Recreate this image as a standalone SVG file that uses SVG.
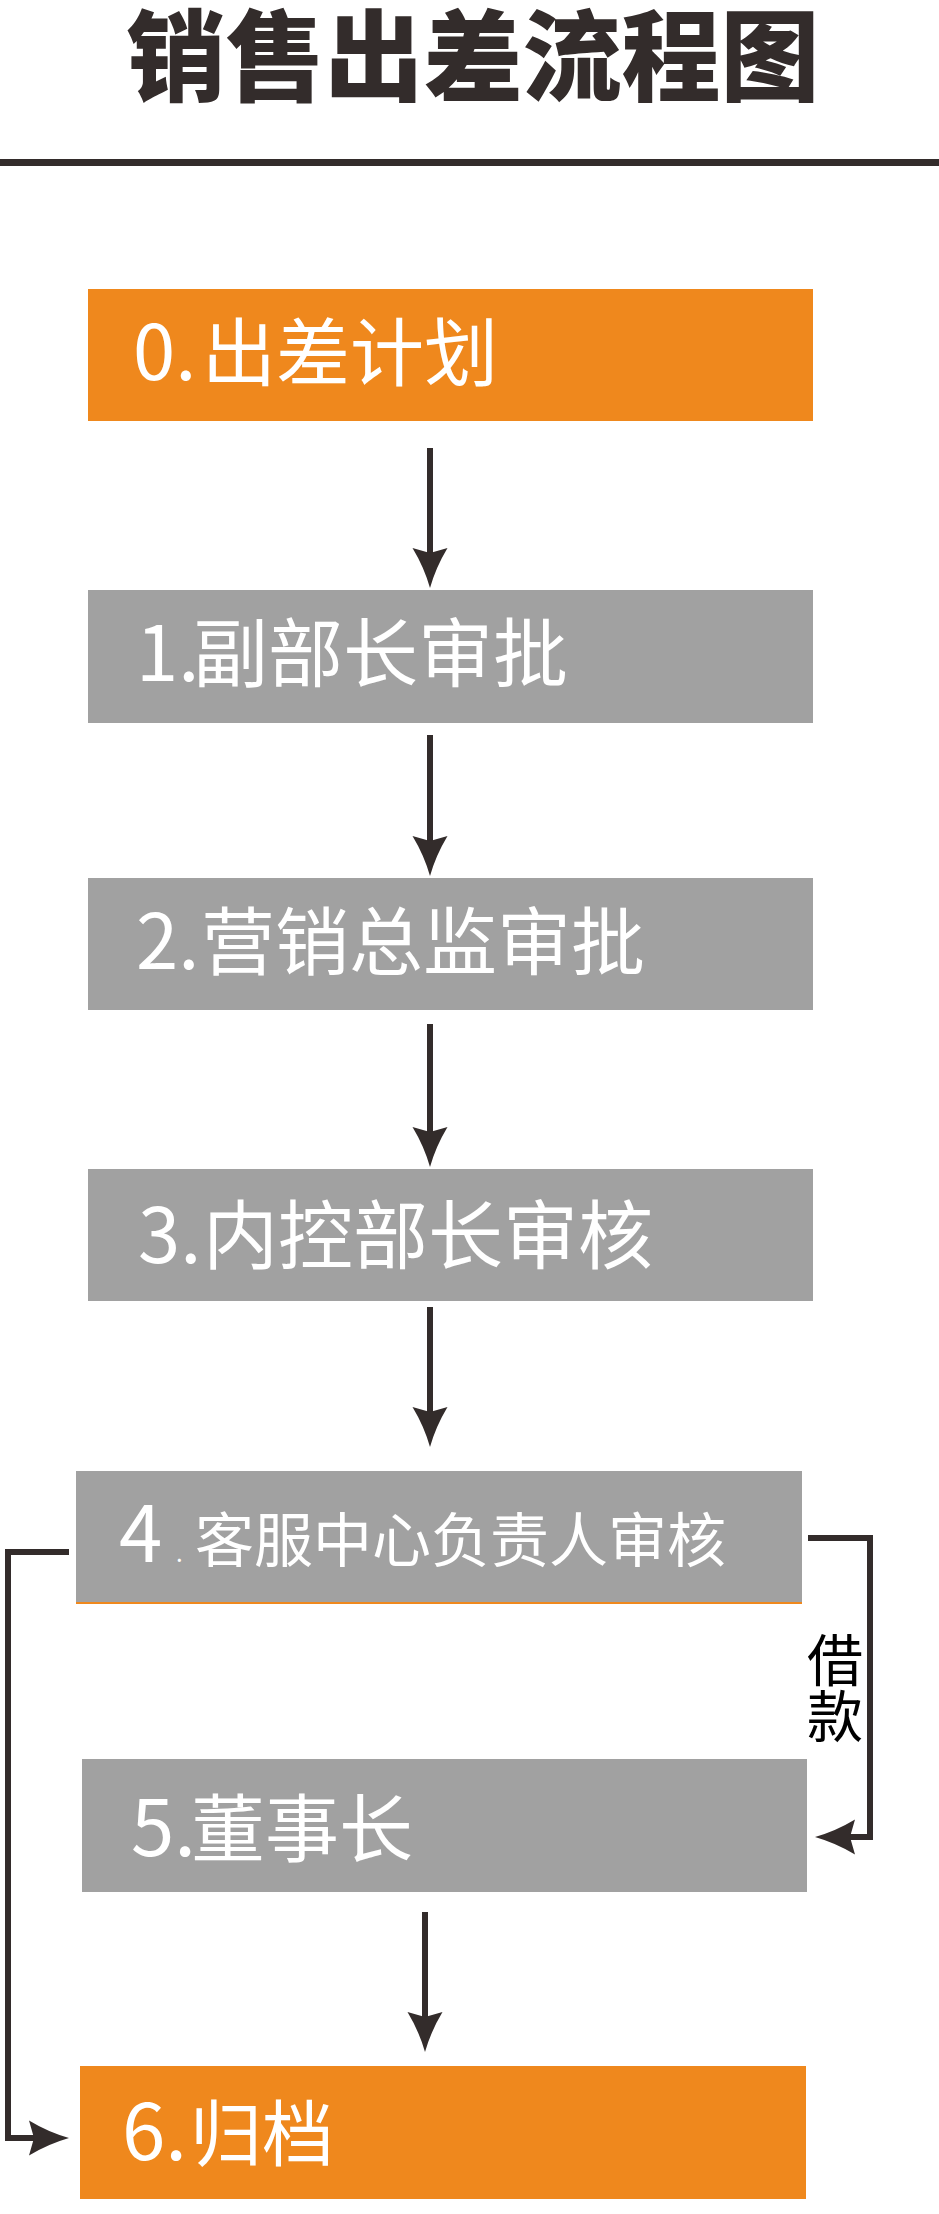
<svg xmlns="http://www.w3.org/2000/svg" width="939" height="2214" viewBox="0 0 939 2214">
  <style>
    .title { font-family: "Noto Sans CJK SC", "Noto Sans", sans-serif; font-weight: 900; font-size: 99px; fill: #332c2b; }
    .orange { fill: #ef881d; }
    .gray { fill: #a1a1a1; }
    .label { font-family: "Noto Sans CJK SC", "Noto Sans", sans-serif; font-weight: 400; fill: #ffffff; }
    .side { font-family: "Noto Sans CJK SC", "Noto Sans", sans-serif; font-weight: 400; font-size: 56px; fill: #000000; writing-mode: vertical-rl; }
    .wire { fill: none; stroke: #332c2b; stroke-width: 6; stroke-linejoin: miter; }
  </style>
  <defs>
    <!-- notched arrowhead, 40 long; the line ends 30 short of the tip -->
    <marker id="arrow" markerUnits="userSpaceOnUse" markerWidth="44" markerHeight="40" viewBox="0 -20 44 40" refX="10" refY="0" orient="auto" overflow="visible">
      <path d="M40,0 Q19,-6 0,-17.5 L5,0 L0,17.5 Q19,6 40,0 Z" fill="#332c2b"/>
    </marker>
  </defs>

  <rect width="939" height="2214" fill="#ffffff"/>

  <!-- heading -->
  <g id="title">
    <text class="title" x="473" y="93" text-anchor="middle">销售出差流程图</text>
    <rect x="0" y="159" width="939" height="7" fill="#332c2b"/>
  </g>

  <!-- steps -->
  <g id="step0">
    <rect class="orange" x="88" y="289" width="725" height="132"/>
    <text class="label" y="380" font-size="76"><tspan x="133">0.</tspan><tspan x="202" font-size="74">出差计划</tspan></text>
  </g>
  <g id="step1">
    <rect class="gray" x="88" y="590" width="725" height="133"/>
    <text class="label" y="681" font-size="76"><tspan x="136">1.</tspan><tspan x="193" font-size="75">副部长审批</tspan></text>
  </g>
  <g id="step2">
    <rect class="gray" x="88" y="878" width="725" height="132"/>
    <text class="label" y="969" font-size="76"><tspan x="136">2.</tspan><tspan x="201" font-size="74">营销总监审批</tspan></text>
  </g>
  <g id="step3">
    <rect class="gray" x="88" y="1169" width="725" height="132"/>
    <text class="label" y="1263" font-size="76"><tspan x="138">3.</tspan><tspan x="203" font-size="75">内控部长审核</tspan></text>
  </g>
  <g id="step4">
    <rect class="gray" x="76" y="1471" width="726" height="133"/>
    <rect class="orange" x="76" y="1602" width="726" height="2"/>
    <text class="label" y="1562"><tspan x="119" font-size="78">4</tspan><tspan x="176" font-size="24">.</tspan><tspan x="195" font-size="59">客服中心负责人审核</tspan></text>
  </g>
  <g id="step5">
    <rect class="gray" x="82" y="1759" width="725" height="133"/>
    <text class="label" y="1856" font-size="78"><tspan x="131">5.</tspan><tspan x="191" font-size="74">董事长</tspan></text>
  </g>
  <g id="step6">
    <rect class="orange" x="80" y="2066" width="726" height="133"/>
    <text class="label" y="2160" font-size="78"><tspan x="122">6.</tspan><tspan x="190" font-size="72">归档</tspan></text>
  </g>

  <!-- connectors -->
  <g id="connectors">
    <path class="wire" d="M430,448 V558" marker-end="url(#arrow)"/>
    <path class="wire" d="M430,735 V846" marker-end="url(#arrow)"/>
    <path class="wire" d="M430,1024 V1137" marker-end="url(#arrow)"/>
    <path class="wire" d="M430,1307 V1417" marker-end="url(#arrow)"/>
    <path class="wire" d="M425,1912 V2022" marker-end="url(#arrow)"/>
    <path class="wire" d="M808,1538 H870 V1837 H845" marker-end="url(#arrow)"/>
    <path class="wire" d="M69,1552 H8 V2138 H39" marker-end="url(#arrow)"/>
    <text class="side" x="835" y="1632">借款</text>
  </g>
</svg>
